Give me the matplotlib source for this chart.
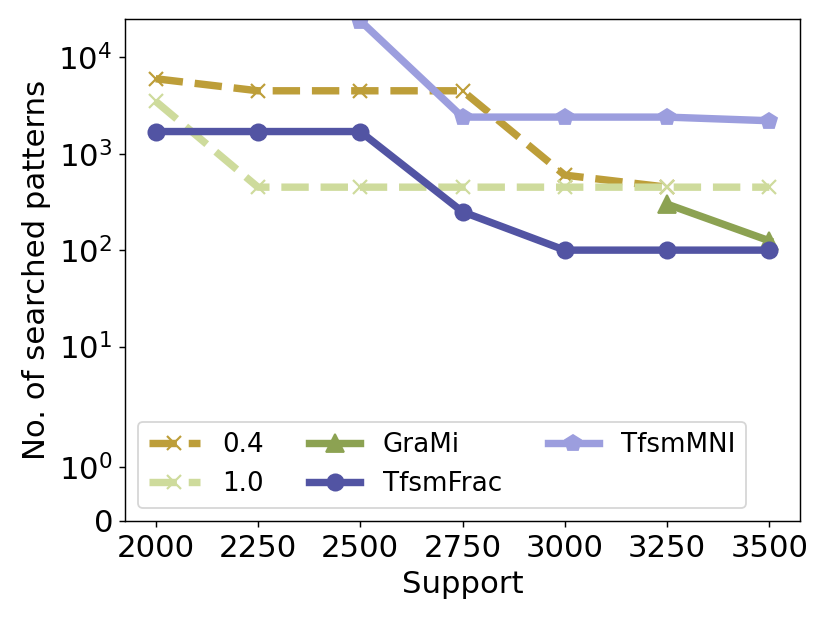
import numpy as np
import matplotlib
matplotlib.use("Agg")
import matplotlib.pyplot as plt
from matplotlib.ticker import NullLocator, FixedLocator

support = [2000, 2250, 2500, 2750, 3000, 3250, 3500]

# searched patterns per method (nan = not run / no result)
alpha_04 = [6000, 4500, 4500, 4500, 600, 450, np.nan]
alpha_10 = [3500, 450, 450, 450, 450, 450, 450]
grami = [np.nan, np.nan, np.nan, np.nan, np.nan, 300, 125]
tfsm_frac = [1700, 1700, 1700, 250, 100, 100, 100]
tfsm_mni = [np.nan, np.nan, 24000, 2400, 2400, 2400, 2200]

labels = ["0.4", "1.0", "GraMi", "TfsmFrac", "TfsmMNI"]
colors = {
    "0.4": "#bd9e39",
    "1.0": "#cedb9c",
    "GraMi": "#8ca252",
    "TfsmFrac": "#5254a3",
    "TfsmMNI": "#9c9ede",
}

fig = plt.figure(figsize=(830 / 130, 623 / 130), dpi=130)
ax = fig.add_axes([125 / 830, 1 - 521 / 623, 675 / 830, 502 / 623])

lw = 4.1
ax.plot(support, alpha_04, color=colors["0.4"], linestyle="--", linewidth=lw,
        marker="x", markersize=8, markeredgewidth=1.2, label="0.4")
ax.plot(support, alpha_10, color=colors["1.0"], linestyle="--", linewidth=lw,
        marker="x", markersize=8, markeredgewidth=1.2, label="1.0")
ax.plot(support, grami, color=colors["GraMi"], linewidth=lw,
        marker="^", markersize=10, label="GraMi")
ax.plot(support, tfsm_frac, color=colors["TfsmFrac"], linewidth=lw,
        marker="o", markersize=9, label="TfsmFrac")
ax.plot(support, tfsm_mni, color=colors["TfsmMNI"], linewidth=lw,
        marker="p", markersize=9, label="TfsmMNI")

ax.set_yscale("symlog", linthresh=2)
ax.set_ylim(0, 25000)
ax.yaxis.set_major_locator(FixedLocator([0, 1, 10, 100, 1000, 10000]))
ax.yaxis.set_minor_locator(NullLocator())
ax.set_xticks([2000, 2250, 2500, 2750, 3000, 3250, 3500])

ax.tick_params(labelsize=17)
ax.set_xlabel("Support", fontsize=17)
ax.set_ylabel("No. of searched patterns", fontsize=17)
ax.legend(loc="lower left", ncol=3, fontsize=14.5, handlelength=1.95,
          handletextpad=0.85, columnspacing=1.75)

fig.savefig("out.png", dpi=130)
